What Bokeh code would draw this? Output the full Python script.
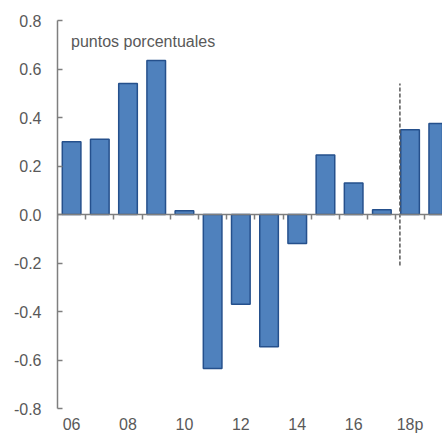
from bokeh.plotting import figure
from bokeh.models import (Range1d, LinearAxis, FixedTicker, NumeralTickFormatter,
                          Label, ColumnDataSource)
from bokeh.embed import file_html
from bokeh.resources import INLINE

# ---- data ----
categories = ["06", "07", "08", "09", "10", "11", "12", "13", "14", "15", "16", "17", "18p", "19p"]
values = [0.30, 0.31, 0.54, 0.635, 0.015, -0.635, -0.37, -0.545, -0.12, 0.245, 0.13, 0.02, 0.35, 0.375]
y_ticks = [-0.8, -0.6, -0.4, -0.2, 0.0, 0.2, 0.4, 0.6, 0.8]
unit_label = "puntos porcentuales"
forecast_split_x = 11.64
forecast_line_y = [-0.21, 0.54]

FONT = "Liberation Sans"
TEXT_COLOR = "#595959"
AXIS_COLOR = "#7f7f7f"

idx = list(range(len(categories)))
src = ColumnDataSource(dict(x=idx, top=values, cat=categories))

p = figure(width=442, height=435, output_backend="svg", toolbar_location=None,
           x_range=Range1d(-0.5, 13.15), y_range=Range1d(-0.8, 0.8),
           x_axis_location=None, y_axis_location=None,
           min_border_left=57, min_border_right=0, min_border_top=20, min_border_bottom=26)
p.outline_line_color = None
p.xgrid.visible = False
p.ygrid.visible = False
p.background_fill_color = "white"

# y axis
yaxis = LinearAxis(ticker=FixedTicker(ticks=y_ticks), formatter=NumeralTickFormatter(format="0.0"))
yaxis.axis_line_color = AXIS_COLOR
yaxis.axis_line_width = 1.5
yaxis.major_tick_line_color = AXIS_COLOR
yaxis.major_tick_line_width = 1.5
yaxis.major_tick_in = 5
yaxis.major_tick_out = 0
yaxis.minor_tick_line_color = None
yaxis.major_label_standoff = 16
yaxis.major_label_text_font = FONT
yaxis.major_label_text_font_size = "16px"
yaxis.major_label_text_color = TEXT_COLOR
p.add_layout(yaxis, "left")

# x axis line at zero with category-boundary ticks
boundaries = [i - 0.5 for i in idx] + [len(categories) - 0.5]
zaxis = LinearAxis(ticker=FixedTicker(ticks=boundaries), fixed_location=0)
zaxis.axis_line_color = AXIS_COLOR
zaxis.axis_line_width = 1.5
zaxis.major_tick_line_color = AXIS_COLOR
zaxis.major_tick_line_width = 1.5
zaxis.major_tick_in = 5
zaxis.major_tick_out = 0
zaxis.minor_tick_line_color = None
zaxis.major_label_text_font_size = "0px"
zaxis.major_label_text_color = None
zaxis.major_label_standoff = 0
p.add_layout(zaxis, "above")

# bottom axis with labels every other category
label_ticks = idx[::2]
xaxis = LinearAxis(ticker=FixedTicker(ticks=label_ticks),
                   major_label_overrides={i: categories[i] for i in label_ticks})
xaxis.axis_line_color = None
xaxis.major_tick_line_color = None
xaxis.minor_tick_line_color = None
xaxis.major_tick_in = 0
xaxis.major_tick_out = 0
xaxis.major_label_standoff = 7
xaxis.major_label_text_font = FONT
xaxis.major_label_text_font_size = "16px"
xaxis.major_label_text_color = TEXT_COLOR
p.add_layout(xaxis, "below")

p.vbar(x="x", top="top", bottom=0, width=0.66, source=src,
       fill_color="#4F81BD", line_color="#25508C", line_width=1.5)

p.line(x=[forecast_split_x, forecast_split_x], y=forecast_line_y,
       line_color="#595959", line_width=1.5, line_dash="4 2")

p.add_layout(Label(x=-0.02, y=0.715, text=unit_label, text_font=FONT,
                   text_font_size="16px", text_color=TEXT_COLOR, text_baseline="middle"))

open("out.html", "w").write(file_html(p, INLINE))
